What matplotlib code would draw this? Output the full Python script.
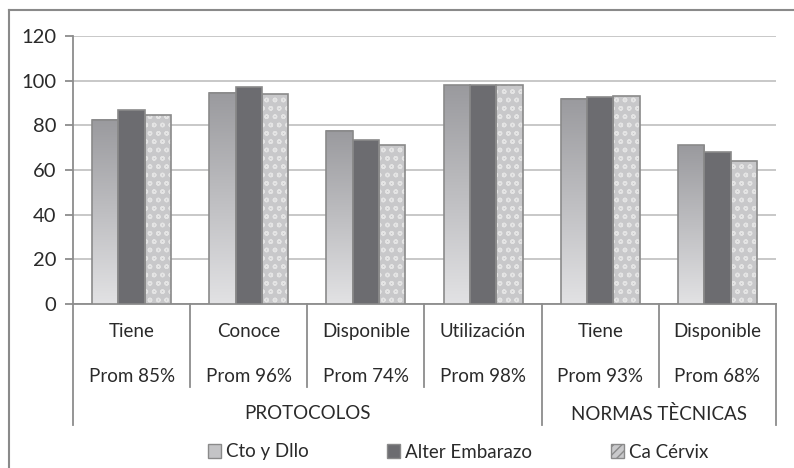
import matplotlib
matplotlib.use("Agg")
import matplotlib.pyplot as plt
import numpy as np
from matplotlib.colors import LinearSegmentedColormap
from matplotlib.patches import Patch
from matplotlib.lines import Line2D

plt.rcParams['font.family'] = ['Lato', 'DejaVu Sans']
plt.rcParams['hatch.linewidth'] = 1.0

# data
subcats = ['Tiene', 'Conoce', 'Disponible', 'Utilización', 'Tiene', 'Disponible']
proms = ['Prom 85%', 'Prom 96%', 'Prom 74%', 'Prom 98%', 'Prom 93%', 'Prom 68%']
groups = ['PROTOCOLOS', 'NORMAS TÈCNICAS']
group_sizes = [4, 2]
series = ['Cto y Dllo', 'Alter Embarazo', 'Ca Cérvix']
cto = [82.5, 94.5, 77.5, 98, 92, 71]
alter = [87, 97.2, 73.5, 98, 92.8, 68]
ca = [84.5, 94, 71, 98, 93.2, 64]

txt = '#2a2a2a'
edge = '#8a8a8a'
fs = 13.5
grad = LinearSegmentedColormap.from_list('g', ['#e2e2e4', '#9a9a9e'])

fig = plt.figure(figsize=(7.94, 4.68), dpi=100)
ax = fig.add_axes([73/794, 1-304/468, (776-73)/794, 268/468])

x = np.arange(len(subcats))
w = 0.225

# Cto y Dllo: vertical gradient bars
b1 = ax.bar(x - w, cto, w, facecolor='none', edgecolor=edge, linewidth=1.2, zorder=4)
g = np.linspace(0, 1, 256).reshape(-1, 1)
for r in b1:
    x0, h = r.get_x(), r.get_height()
    ax.imshow(g, extent=[x0, x0 + w, 0, h], origin='lower', aspect='auto',
              cmap=grad, zorder=3)

# Alter Embarazo: solid dark
ax.bar(x, alter, w, color='#6c6c70', edgecolor=edge, linewidth=1.2, zorder=4)

# Ca Cervix: light textured
ax.bar(x + w, ca, w, color='#c8c8ca', hatch='oo', edgecolor='#e4e4e4', linewidth=0, zorder=3)
ax.bar(x + w, ca, w, facecolor='none', edgecolor=edge, linewidth=1.2, zorder=4)

ax.set_xlim(-0.5, len(subcats) - 0.5)
ax.set_ylim(0, 120)
ax.set_yticks(np.arange(0, 121, 20))
ax.yaxis.grid(True, color='#c4c4c4', linewidth=1.3)
ax.set_axisbelow(True)
ax.set_xticks([])
for s in ['top', 'right']:
    ax.spines[s].set_visible(False)
for s in ['left', 'bottom']:
    ax.spines[s].set_color('#8c8c8c')
    ax.spines[s].set_linewidth(1.3)
ax.tick_params(axis='y', direction='out', length=6, width=1.3, color='#8c8c8c',
               labelsize=14.5, labelcolor=txt, pad=6)

# category labels under the axis
for i in range(len(subcats)):
    ax.text(i, -0.104, subcats[i], transform=ax.get_xaxis_transform(),
            ha='center', va='center', fontsize=fs, color=txt)
    ax.text(i, -0.272, proms[i], transform=ax.get_xaxis_transform(),
            ha='center', va='center', fontsize=fs, color=txt)

# separators
start = 0
bounds = [-0.5]
for gname, n in zip(groups, group_sizes):
    ax.text(start + (n - 1) / 2, -0.41, gname, transform=ax.get_xaxis_transform(),
            ha='center', va='center', fontsize=fs, color=txt)
    start += n
    bounds.append(start - 0.5)
for b in np.arange(-0.5, len(subcats)):
    low = -0.452 if b in bounds else -0.308
    ax.add_line(Line2D([b, b], [0, low], transform=ax.get_xaxis_transform(),
                       color='#8c8c8c', linewidth=1.3, clip_on=False))

# legend
handles = [Patch(facecolor='#c4c4c6', edgecolor=edge),
           Patch(facecolor='#6c6c70', edgecolor=edge),
           Patch(facecolor='#c9c9cb', edgecolor=edge, hatch='////')]
fig.legend(handles, series, loc='center', bbox_to_anchor=(458/794, 1-452/468),
           ncol=3, frameon=False, fontsize=fs, handlelength=0.7, handleheight=0.7,
           handletextpad=0.25, columnspacing=4.2, labelcolor=txt)

# outer frame (cut by the image edge)
fig.add_artist(Line2D([8.5/794, 8.5/794], [0, 1-10/468], color='#8a8a8a', linewidth=1.5))
fig.add_artist(Line2D([8.5/794, 1], [1-10/468, 1-10/468], color='#8a8a8a', linewidth=1.5))

fig.savefig('out.png', dpi=100)
